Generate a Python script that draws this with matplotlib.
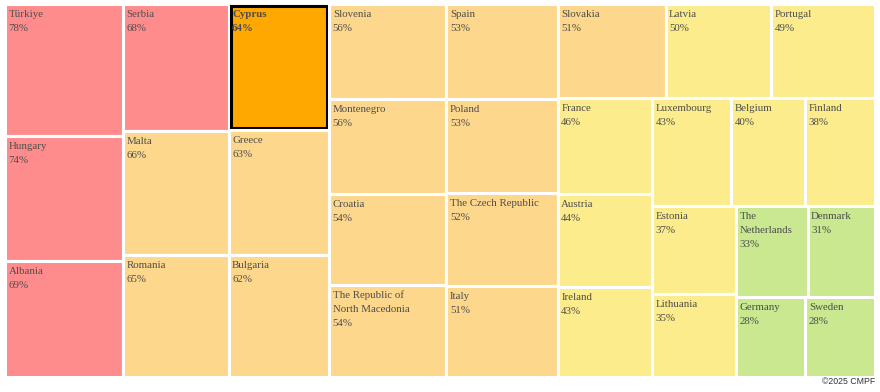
import matplotlib
matplotlib.use("Agg")
import matplotlib.pyplot as plt
from matplotlib.patches import Rectangle

# countries sorted by value (risk score, %)
COUNTRIES = ["Türkiye", "Hungary", "Albania", "Serbia", "Malta", "Romania",
             "Cyprus", "Greece", "Bulgaria", "Slovenia", "Montenegro", "Croatia",
             "The Republic of\nNorth Macedonia", "Spain", "Poland",
             "The Czech Republic", "Italy", "Slovakia", "Latvia", "Portugal",
             "France", "Austria", "Ireland", "Luxembourg", "Belgium", "Finland",
             "Estonia", "Lithuania", "The\nNetherlands", "Denmark", "Germany",
             "Sweden"]
VALUES = [78, 74, 69, 68, 66, 65, 64, 63, 62, 56, 56, 54, 54, 53, 53, 52, 51,
          51, 50, 49, 46, 44, 43, 43, 40, 38, 37, 35, 33, 31, 28, 28]
HIGHLIGHT = "Cyprus"

# risk bands -> colour
BANDS = [(67, "#ff8c8c"), (51, "#fdd78c"), (34, "#fcec8c"), (0, "#c9e890")]
HL_COLOR = "#ffa800"


def band_color(v):
    for lo, c in BANDS:
        if v >= lo:
            return c
    return BANDS[-1][1]


# ---- squarified treemap (Bruls et al.) ----
def layout_row(sizes, x, y, dx, dy):
    w = sum(sizes) / dy
    out = []
    for s in sizes:
        out.append((x, y, w, s / w))
        y += s / w
    return out

def layout_col(sizes, x, y, dx, dy):
    h = sum(sizes) / dx
    out = []
    for s in sizes:
        out.append((x, y, s / h, h))
        x += s / h
    return out

def layout(sizes, x, y, dx, dy):
    return layout_row(sizes, x, y, dx, dy) if dx >= dy else layout_col(sizes, x, y, dx, dy)

def leftover(sizes, x, y, dx, dy):
    if dx >= dy:
        w = sum(sizes) / dy
        return x + w, y, dx - w, dy
    h = sum(sizes) / dx
    return x, y + h, dx, dy - h

def worst(sizes, x, y, dx, dy):
    return max(max(r[2] / r[3], r[3] / r[2]) for r in layout(sizes, x, y, dx, dy))

def squarify(sizes, x, y, dx, dy):
    if not sizes:
        return []
    if len(sizes) == 1:
        return layout(sizes, x, y, dx, dy)
    i = 1
    while i < len(sizes) and worst(sizes[:i], x, y, dx, dy) >= worst(sizes[:i + 1], x, y, dx, dy):
        i += 1
    cur, rest = sizes[:i], sizes[i:]
    return layout(cur, x, y, dx, dy) + squarify(rest, *leftover(cur, x, y, dx, dy))


W, H = 880, 392
X0, Y0, X1, Y1 = 5, 4, 875, 377
fig = plt.figure(figsize=(W / 100, H / 100), dpi=100)
ax = fig.add_axes([0, 0, 1, 1])
ax.set_xlim(0, W); ax.set_ylim(H, 0); ax.axis("off")

dx, dy = X1 - X0, Y1 - Y0
tot = sum(VALUES)
sizes = [v * dx * dy / tot for v in VALUES]
rects = squarify(sizes, X0, Y0, dx, dy)

g = 1.5  # half the white gap
for name, v, (x, y, w, h) in zip(COUNTRIES, VALUES, rects):
    hl = name == HIGHLIGHT
    ax.add_patch(Rectangle((x, y), w, h, facecolor=HL_COLOR if hl else band_color(v),
                           edgecolor="white", lw=2.2))
    if hl:
        ax.add_patch(Rectangle((x + g + 0.5, y + g + 0.5), w - 2 * g - 1, h - 2 * g - 1,
                               facecolor="none", edgecolor="black", lw=2.2))
    lines = name.split("\n") + ["%d%%" % v]
    for k, s in enumerate(lines):
        ax.text(x + 3.5, y + 13 + 14 * k, s, ha="left", va="baseline",
                family="Liberation Serif", fontsize=7.8, color="#4d4d4d",
                fontweight="bold" if hl else "normal")

ax.text(875, 382, "©2025 CMPF", ha="right", va="center", fontsize=6.3,
        family="Liberation Sans", color="#333333")

fig.savefig("out.png", dpi=100)
